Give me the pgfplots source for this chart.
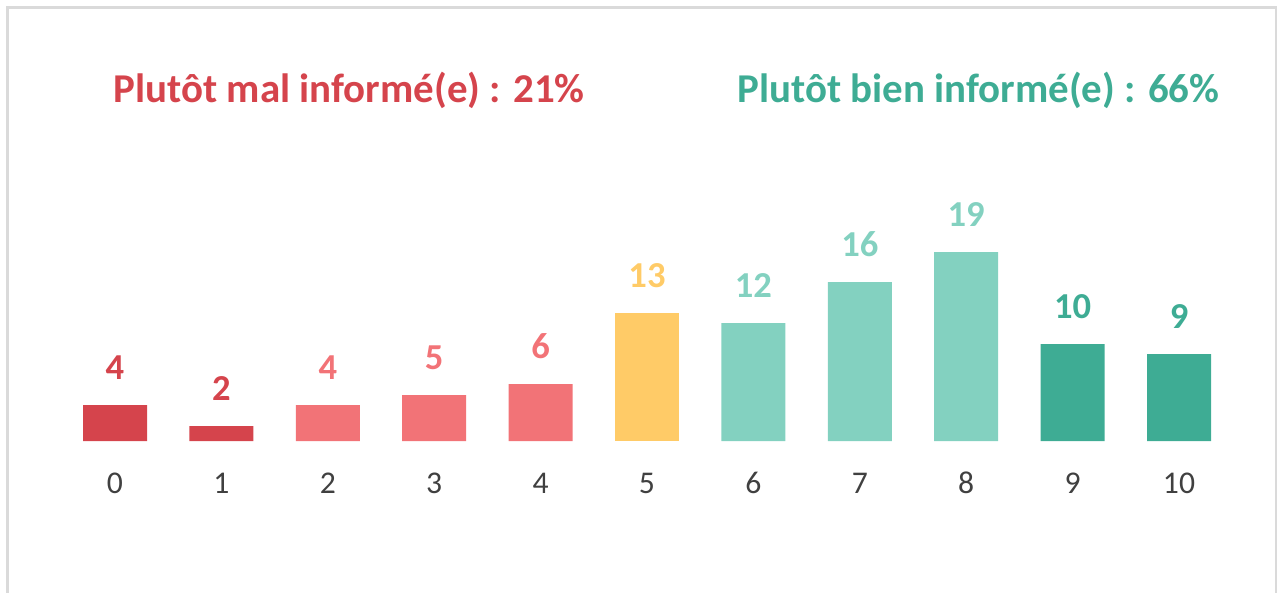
\documentclass[border=0pt]{standalone}
\usepackage{pgfplots}
\pgfplotsset{compat=1.18}
\usepackage{fontspec}
\setmainfont{Carlito}
\definecolor{dred}{HTML}{D5444C}
\definecolor{lred}{HTML}{F27377}
\definecolor{yel}{HTML}{FFCB67}
\definecolor{lteal}{HTML}{83D1C0}
\definecolor{dteal}{HTML}{3EAC94}
\definecolor{tickgray}{HTML}{404040}
\definecolor{framegray}{HTML}{DADADA}
\begin{document}
\begin{tikzpicture}
\useasboundingbox (0,0) rectangle (127.7mm,-59.2mm);
\begin{scope}
\clip (0,0) rectangle (127.7mm,-59.2mm);
\draw[framegray, line width=0.25mm] (0.75mm,-0.75mm) rectangle (127.6mm,-62mm);
\end{scope}
\node[anchor=base west, text=dred, font=\fontsize{11.65pt}{13pt}\selectfont\bfseries, inner sep=0pt] at (11.3mm,-10.3mm) {Plutôt mal informé(e) : 21\%};
\node[anchor=base east, text=dteal, font=\fontsize{11.65pt}{13pt}\selectfont\bfseries, inner sep=0pt] at (122.0mm,-10.3mm) {Plutôt bien informé(e) : 66\%};
\begin{axis}[
  at={(6.18mm,-44.1mm)}, anchor=south west,
  scale only axis, width=117.04mm, height=20mm,
  xmin=-0.5, xmax=10.5, ymin=0, ymax=20,
  ybar, bar shift=0pt, bar width=6.4mm,
  axis line style={draw=none}, major tick length=0pt,
  ytick=\empty, xtick={0,...,10},
  /pgf/number format/assume math mode=true,
  xticklabel style={anchor=base, yshift=-5.2mm, text=tickgray, font=\fontsize{9pt}{10pt}\selectfont},
  clip=false,
  point meta=explicit symbolic,
  nodes near coords,
  every node near coord/.append style={anchor=base, yshift=2.6mm, font=\fontsize{10.4pt}{11pt}\selectfont\bfseries, inner sep=0pt},
]
\addplot[draw=none, fill=dred, every node near coord/.append style={text=dred}] coordinates {(0,3.6) [4] (1,1.5) [2]};
\addplot[draw=none, fill=lred, every node near coord/.append style={text=lred}] coordinates {(2,3.6) [4] (3,4.6) [5] (4,5.7) [6]};
\addplot[draw=none, fill=yel, every node near coord/.append style={text=yel}] coordinates {(5,12.8) [13]};
\addplot[draw=none, fill=lteal, every node near coord/.append style={text=lteal}] coordinates {(6,11.8) [12] (7,15.9) [16] (8,18.9) [19]};
\addplot[draw=none, fill=dteal, every node near coord/.append style={text=dteal}] coordinates {(9,9.7) [10] (10,8.7) [9]};
\end{axis}
\end{tikzpicture}
\end{document}
